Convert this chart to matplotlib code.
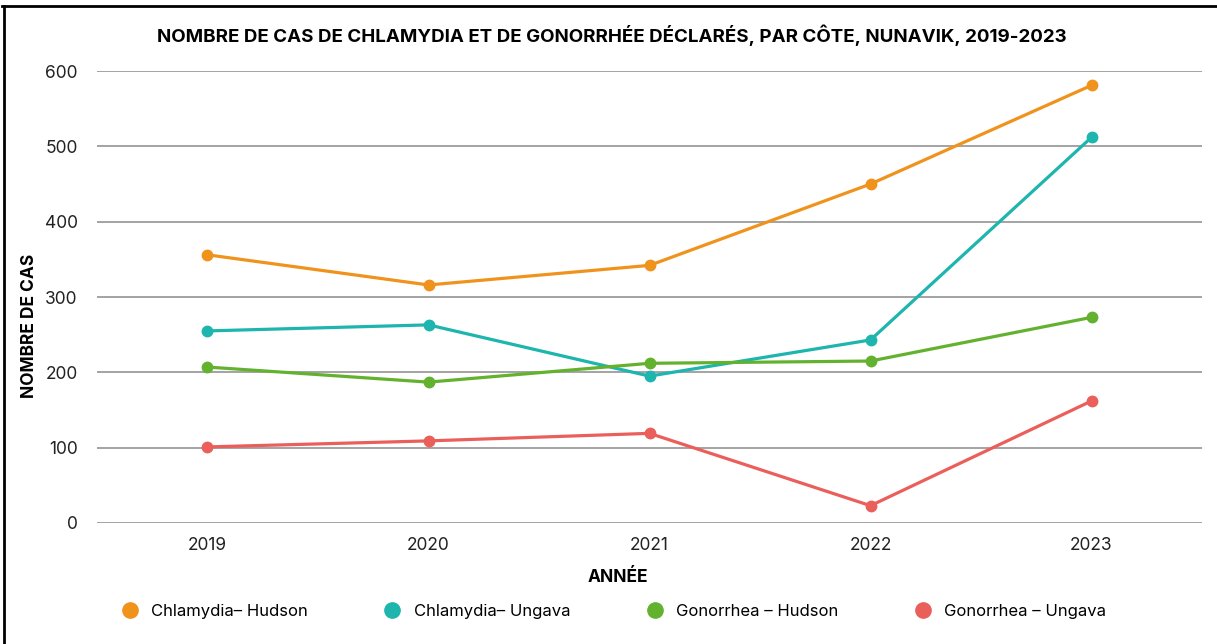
import matplotlib
matplotlib.use("Agg")
import matplotlib.pyplot as plt
from matplotlib.lines import Line2D

plt.rcParams['font.family'] = ['Inter', 'DejaVu Sans']

years = ["2019", "2020", "2021", "2022", "2023"]
chlamydia_hudson = [356, 316, 342, 450, 581]
chlamydia_ungava = [255, 263, 195, 243, 512]
gonorrhea_hudson = [207, 187, 212, 215, 273]
gonorrhea_ungava = [101, 109, 119, 23, 162]

series_names = ["Chlamydia\u2013 Hudson", "Chlamydia\u2013 Ungava",
                "Gonorrhea \u2013 Hudson", "Gonorrhea \u2013 Ungava"]
colors = ["#F0931D", "#1DB5AE", "#63B22F", "#EB5F5B"]
yticks = [0, 100, 200, 300, 400, 500, 600]

fig = plt.figure(figsize=(12.17, 6.44), dpi=100)
ax = fig.add_axes([0.0797, 0.1879, 0.908, 0.7018])

x = list(range(len(years)))
for vals, c in zip([chlamydia_hudson, chlamydia_ungava, gonorrhea_hudson, gonorrhea_ungava], colors):
    ax.plot(x, vals, color=c, lw=2.3, marker="o", ms=7.5, clip_on=False, zorder=3)

ax.set_xlim(-0.5, 4.5)
ax.set_ylim(0, 600)
ax.set_xticks(x)
ax.set_xticklabels(years)
ax.set_yticks(yticks)
ax.yaxis.grid(True, color="#8a8a8a", lw=1.1)
ax.set_axisbelow(True)
for s in ax.spines.values():
    s.set_visible(False)
ax.tick_params(length=0, labelsize=12.5, colors="#222222", pad=10)
ax.tick_params(axis="y", pad=14)

ax.set_ylabel("NOMBRE DE CAS", fontsize=12.5, fontweight="bold", va="center")
ax.yaxis.set_label_coords(-0.0615, 0.436)
ax.set_xlabel("ANNÉE", fontsize=12.5, fontweight="bold", va="center")
ax.xaxis.set_label_coords(0.4715, -0.1217)

fig.text(0.503, 0.945, "NOMBRE DE CAS DE CHLAMYDIA ET DE GONORRHÉE DÉCLARÉS, PAR CÔTE, NUNAVIK, 2019-2023",
         ha="center", va="center", fontsize=13.5, fontweight="bold")

handles = [Line2D([], [], ls="none", marker="o", ms=11, color=c) for c in colors]
fig.legend(handles, series_names, loc="center left", bbox_to_anchor=(0.0805, 0.051),
           ncol=4, frameon=False, fontsize=12, columnspacing=4.05, handletextpad=0.3)

# left and top border of the cropped frame
fig.add_artist(Line2D([0.003, 0.003], [0, 0.99], color="black", lw=2))
fig.add_artist(Line2D([0.002, 1], [0.99, 0.99], color="black", lw=2))

fig.savefig("out.png", dpi=100)
